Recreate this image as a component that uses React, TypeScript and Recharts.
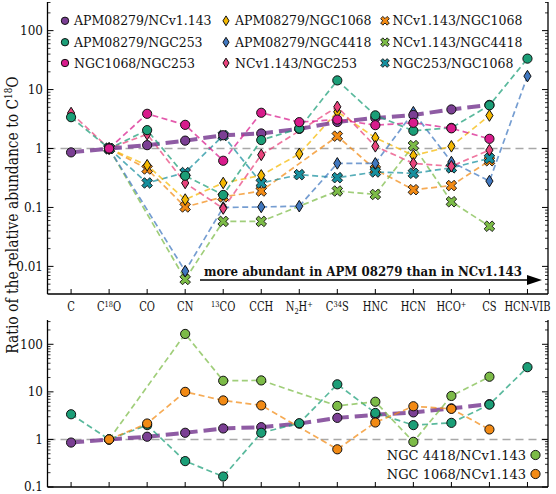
import React from 'react';
import { LineChart, Line, XAxis, YAxis, ReferenceLine } from 'recharts';

const FONT = '"DejaVu Serif", "Liberation Serif", serif';

// ---------------- data ----------------
const categories = ['C', 'C18O', 'CO', 'CN', '13CO', 'CCH', 'N2H+', 'C34S', 'HNC', 'HCN', 'HCO+', 'CS', 'HCN-VIB'];

type Part = [string, '' | 'sup' | 'sub'];
const categoryLabelParts: Part[][] = [
  [['C', '']],
  [['C', ''], ['18', 'sup'], ['O', '']],
  [['CO', '']],
  [['CN', '']],
  [['13', 'sup'], ['CO', '']],
  [['CCH', '']],
  [['N', ''], ['2', 'sub'], ['H', ''], ['+', 'sup']],
  [['C', ''], ['34', 'sup'], ['S', '']],
  [['HNC', '']],
  [['HCN', '']],
  [['HCO', ''], ['+', 'sup']],
  [['CS', '']],
  [['HCN-VIB', '']],
];

// top panel series (index follows categories)
const apmNcv = [0.86, 1, 1.14, 1.36, 1.68, 1.8, 2.15, 2.82, 3.3, 3.7, 4.6, 5.5, null];
const apmN253 = [3.4, 1, 2.05, 0.345, 0.163, 1.39, 2.18, 14.3, 3.65, 2.0, 2.24, 5.4, 33.5];
const n1068N253 = [null, 1, 3.88, 2.52, 0.62, 4.04, 2.8, 3.1, 2.49, 2.73, 2.2, 1.46, null];
const apmN1068 = [null, 1, 0.52, 0.136, 0.26, 0.35, 0.81, 4.2, 1.52, 0.76, 1.09, 3.63, null];
const apmN4418 = [null, 1, null, 0.0083, 0.1, 0.102, 0.105, 0.56, 0.56, 4.13, 0.59, 0.28, 16.9];
const ncvN253 = [4.0, 1, 1.75, 0.26, 0.096, 0.78, null, 5.1, 1.09, 0.56, 0.5, 0.94, null];
const ncvN1068 = [null, 1, 0.45, 0.102, 0.151, 0.19, null, 1.62, 0.44, 0.2, 0.235, 0.62, null];
const ncvN4418 = [null, 1, null, 0.006, 0.058, 0.058, null, 0.19, 0.166, 1.12, 0.125, 0.048, null];
const n253N1068 = [null, 1, 0.26, 0.39, 1.66, 0.26, 0.36, 0.32, 0.4, 0.38, 0.47, 0.68, null];

// bottom panel series
const botApmNcv = [0.86, 1, 1.14, 1.38, 1.7, 1.81, 2.15, 2.84, 3.3, 3.7, 4.5, 5.5, null];
const botApmN253 = [3.38, 1, 2.0, 0.35, 0.166, 1.38, 2.19, 14.4, 3.6, 2.0, 2.23, 5.4, 33.0];
const botN4418Ncv = [null, 1, null, 165, 17.1, 17.4, null, 5.07, 6.2, 0.89, 8.2, 20.8, null];
const botN1068Ncv = [null, 1, 2.16, 10, 6.6, 5.2, null, 0.62, 2.27, 4.98, 4.39, 1.62, null];

const topNames = [
  'APM08279/NCv1.143', 'APM08279/NGC253', 'NGC1068/NGC253',
  'APM08279/NGC1068', 'APM08279/NGC4418', 'NCv1.143/NGC253',
  'NCv1.143/NGC1068', 'NCv1.143/NGC4418', 'NGC253/NGC1068',
];
const bottomNames = ['NGC 4418/NCv1.143', 'NGC 1068/NCv1.143'];

const topMajorTicks = [0.01, 0.1, 1, 10, 100];
const topMajorLabels = ['0.01', '0.1', '1', '10', '100'];
const bottomMajorTicks = [0.1, 1, 10, 100];
const bottomMajorLabels = ['0.1', '1', '10', '100'];
const minorMultipliers = [2, 3, 4, 5, 6, 7, 8, 9];

const annotationText = 'more abundant in APM 08279 than in NCv1.143';
const yTitle = 'Ratio of the relative abundance to C';

// ---------------- styles ----------------
const C = {
  purple: '#7b3f94',
  green: '#1b9e77',
  magenta: '#d81b8c',
  yellow: '#f5b800',
  blue: '#4077bf',
  pink: '#e9437c',
  orange: '#f28a14',
  lgreen: '#7cbb47',
  teal: '#168f9e',
};

type Shape = 'circle' | 'diamond' | 'x';

const TOP_DOMAIN: [number, number] = [0.0034, 306];
const BOT_DOMAIN: [number, number] = [0.1, 324];
const X_DOMAIN: [number, number] = [-0.62, 12.54];
const xTicks = categories.map((_, i) => i);

function logTicks(min: number, max: number, majors: number[]) {
  const out: number[] = [];
  const bases = [majors[0] / 10, ...majors];
  bases.forEach((m) => {
    out.push(m);
    minorMultipliers.forEach((k) => out.push(m * k));
  });
  return out.filter((v) => v >= min && v <= max).sort((a, b) => a - b);
}

function isMajor(v: number) {
  const l = Math.log10(v);
  return Math.abs(l - Math.round(l)) < 1e-6;
}

function marker(shape: Shape, cx: number, cy: number, fill: string, s: number, key?: any) {
  const stroke = '#111';
  if (shape === 'circle') {
    return <circle key={key} cx={cx} cy={cy} r={s} fill={fill} stroke={stroke} strokeWidth={1} />;
  }
  if (shape === 'diamond') {
    const w = s * 0.62;
    return (
      <path key={key} d={`M${cx},${cy - s}L${cx + w},${cy}L${cx},${cy + s}L${cx - w},${cy}Z`} fill={fill} stroke={stroke} strokeWidth={1} />
    );
  }
  const h = s;
  const w = s * 0.34;
  const pts: [number, number][] = [
    [-w, -h], [w, -h], [w, -w], [h, -w], [h, w], [w, w], [w, h], [-w, h], [-w, w], [-h, w], [-h, -w], [-w, -w],
  ];
  const r = Math.SQRT1_2;
  const d = pts
    .map(([px, py], i) => `${i === 0 ? 'M' : 'L'}${(cx + (px - py) * r).toFixed(2)},${(cy + (px + py) * r).toFixed(2)}`)
    .join('') + 'Z';
  return <path key={key} d={d} fill={fill} stroke={stroke} strokeWidth={0.9} />;
}

const dotFn = (shape: Shape, fill: string, s: number) => (p: any) => {
  const key = p.key ?? `d-${p.index}`;
  if (p.cx == null || p.cy == null || p.value == null || Number.isNaN(p.cy)) return <g key={key} />;
  return marker(shape, p.cx, p.cy, fill, s, key);
};

// ---------------- ticks ----------------
const XBottomTick = (props: any) => {
  const { x, y, payload, showLabel } = props;
  const i = Math.round(payload.value);
  const parts = categoryLabelParts[i] || [];
  let off = 0;
  const spans = parts.map(([t, k], j) => {
    let target = 0;
    let size = 12;
    if (k === 'sup') { target = -4.5; size = 8; }
    if (k === 'sub') { target = 3; size = 8; }
    const dy = target - off;
    off = target;
    return (
      <tspan key={j} dy={dy} fontSize={size}>{t}</tspan>
    );
  });
  return (
    <g>
      <line x1={x} x2={x} y1={y} y2={y - 5} stroke="#000" strokeWidth={1} />
      {showLabel && (
        <text transform={`translate(${x},${y + 17}) scale(0.83,1)`} x={0} y={0} textAnchor="middle" fontSize={12} fontFamily={FONT} fill="#111">{spans}</text>
      )}
    </g>
  );
};

const XTopTick = (props: any) => {
  const { x, y } = props;
  return <line x1={x} x2={x} y1={y} y2={y + 5} stroke="#000" strokeWidth={1} />;
};

const YLeftTick = (props: any) => {
  const { x, y, payload, majors, labels } = props;
  const v = payload.value;
  const major = isMajor(v);
  const idx = majors.findIndex((m: number) => Math.abs(m - v) / m < 1e-6);
  return (
    <g>
      <line x1={x} x2={x + (major ? 6 : 3)} y1={y} y2={y} stroke="#000" strokeWidth={major ? 1 : 0.8} />
      {major && idx >= 0 && (
        <text x={x - 4.5} y={y + 4.3} textAnchor="end" fontSize={12} fontFamily={FONT} fill="#111">{labels[idx]}</text>
      )}
    </g>
  );
};

const YRightTick = (props: any) => {
  const { x, y, payload } = props;
  const major = isMajor(payload.value);
  return <line x1={x} x2={x - (major ? 6 : 3)} y1={y} y2={y} stroke="#000" strokeWidth={major ? 1 : 0.8} />;
};

// ---------------- series config ----------------
type Series = { key: string; values: (number | null)[]; color: string; shape: Shape; thick?: boolean };

const topSeries: Series[] = [
  { key: 'ncvN1068', values: ncvN1068, color: C.orange, shape: 'x' },
  { key: 'ncvN4418', values: ncvN4418, color: C.lgreen, shape: 'x' },
  { key: 'n253N1068', values: n253N1068, color: C.teal, shape: 'x' },
  { key: 'apmN1068', values: apmN1068, color: C.yellow, shape: 'diamond' },
  { key: 'apmN4418', values: apmN4418, color: C.blue, shape: 'diamond' },
  { key: 'ncvN253', values: ncvN253, color: C.pink, shape: 'diamond' },
  { key: 'apmNcv', values: apmNcv, color: C.purple, shape: 'circle', thick: true },
  { key: 'apmN253', values: apmN253, color: C.green, shape: 'circle' },
  { key: 'n1068N253', values: n1068N253, color: C.magenta, shape: 'circle' },
];

const bottomSeries: Series[] = [
  { key: 'botApmNcv', values: botApmNcv, color: C.purple, shape: 'circle', thick: true },
  { key: 'botApmN253', values: botApmN253, color: C.green, shape: 'circle' },
  { key: 'botN4418Ncv', values: botN4418Ncv, color: C.lgreen, shape: 'circle' },
  { key: 'botN1068Ncv', values: botN1068Ncv, color: C.orange, shape: 'circle' },
];

function buildRows(series: Series[]) {
  return categories.map((c, i) => {
    const row: any = { x: i, name: c };
    series.forEach((s) => { row[s.key] = s.values[i]; });
    return row;
  });
}

const topRows = buildRows(topSeries);
const bottomRows = buildRows(bottomSeries);

function renderLines(series: Series[]) {
  return series.map((s) => (
    <Line
      key={s.key}
      dataKey={s.key}
      type="linear"
      stroke={s.color}
      strokeOpacity={s.thick ? 0.85 : 0.72}
      strokeWidth={s.thick ? 4 : 1.7}
      strokeDasharray={s.thick ? '13 6' : '6 3.5'}
      connectNulls
      isAnimationActive={false}
      dot={dotFn(s.shape, s.color, s.shape === 'circle' ? 4.6 : s.shape === 'diamond' ? 5.8 : 5.6)}
      activeDot={false}
    />
  ));
}

function Panel({ rows, series, domain, majors, labels, height, marginTop, bottomH, showX }: any) {
  const yt = logTicks(domain[0], domain[1], majors);
  return (
    <LineChart width={556} height={height} data={rows} margin={{ top: marginTop, right: 0, bottom: 0, left: 0 }}>
      <XAxis
        xAxisId={0}
        dataKey="x"
        type="number"
        domain={X_DOMAIN}
        allowDataOverflow
        ticks={xTicks}
        interval={0}
        height={bottomH}
        tickSize={0}
        tickMargin={0}
        axisLine={{ stroke: '#000', strokeWidth: 1.3 }}
        tickLine={false}
        tick={(p: any) => <XBottomTick {...p} showLabel={showX} />}
      />
      <XAxis
        xAxisId="top"
        orientation="top"
        dataKey="x"
        type="number"
        domain={X_DOMAIN}
        allowDataOverflow
        ticks={xTicks}
        interval={0}
        height={0}
        tickSize={0}
        tickMargin={0}
        axisLine={{ stroke: '#000', strokeWidth: 1.3 }}
        tickLine={false}
        tick={(p: any) => <XTopTick {...p} />}
      />
      <YAxis
        yAxisId={0}
        type="number"
        scale="log"
        domain={domain}
        allowDataOverflow
        ticks={yt}
        interval={0}
        width={47.5}
        tickSize={0}
        tickMargin={0}
        axisLine={{ stroke: '#000', strokeWidth: 1.3 }}
        tickLine={false}
        tick={(p: any) => <YLeftTick {...p} majors={majors} labels={labels} />}
      />
      <YAxis
        yAxisId="right"
        orientation="right"
        type="number"
        scale="log"
        domain={domain}
        allowDataOverflow
        ticks={yt}
        interval={0}
        width={8}
        tickSize={0}
        tickMargin={0}
        axisLine={{ stroke: '#000', strokeWidth: 1.3 }}
        tickLine={false}
        tick={(p: any) => <YRightTick {...p} />}
      />
      <ReferenceLine y={1} stroke="#a8a8a8" strokeWidth={1.5} strokeDasharray="8 5" />
      {renderLines(series)}
    </LineChart>
  );
}

const topLegendLayout = [
  { shape: 'circle', color: C.purple, col: 0, row: 0 },
  { shape: 'circle', color: C.green, col: 0, row: 1 },
  { shape: 'circle', color: C.magenta, col: 0, row: 2 },
  { shape: 'diamond', color: C.yellow, col: 1, row: 0 },
  { shape: 'diamond', color: C.blue, col: 1, row: 1 },
  { shape: 'diamond', color: C.pink, col: 1, row: 2 },
  { shape: 'x', color: C.orange, col: 2, row: 0 },
  { shape: 'x', color: C.lgreen, col: 2, row: 1 },
  { shape: 'x', color: C.teal, col: 2, row: 2 },
];
const legendColX = [65, 226, 385];
const legendRowY = [20.8, 42.2, 63];

export default function App() {
  return (
    <div style={{ position: 'absolute', left: 0, top: 0, width: 556, height: 494, background: '#fff', fontFamily: FONT }}>
      <div style={{ position: 'absolute', left: 0, top: 0 }}>
        <Panel rows={topRows} series={topSeries} domain={TOP_DOMAIN} majors={topMajorTicks} labels={topMajorLabels}
          height={316} marginTop={2} bottomH={22} showX={true} />
      </div>
      <div style={{ position: 'absolute', left: 0, top: 310 }}>
        <Panel rows={bottomRows} series={bottomSeries} domain={BOT_DOMAIN} majors={bottomMajorTicks} labels={bottomMajorLabels}
          height={184} marginTop={10} bottomH={7} showX={false} />
      </div>
      <svg width={556} height={494} style={{ position: 'absolute', left: 0, top: 0, pointerEvents: 'none' }}>
        {/* y title */}
        <text transform="translate(17.5,215) rotate(-90) scale(0.84,1)" textAnchor="middle" fontSize={16.5} fontFamily={FONT} fill="#111">
          {yTitle}
          <tspan dy={-6} fontSize={10.5}>18</tspan>
          <tspan dy={6}>O</tspan>
        </text>
        {/* top legend */}
        {topLegendLayout.map((l, i) => (
          <g key={i}>
            {marker(l.shape as Shape, legendColX[l.col], legendRowY[l.row], l.color, l.shape === 'circle' ? 3.7 : l.shape === 'diamond' ? 4.9 : 4.6)}
            <text x={legendColX[l.col] + (l.col === 2 ? 7.5 : 9)} y={legendRowY[l.row] + 4.5} fontSize={12.5} fontFamily={FONT} fill="#111">
              {topNames[i]}
            </text>
          </g>
        ))}
        {/* annotation */}
        <text x={204} y={275.5} fontSize={12} fontWeight="bold" fontFamily={FONT} fill="#111" textLength={318} lengthAdjust="spacingAndGlyphs">{annotationText}</text>
        <line x1={200} x2={528} y1={280} y2={280} stroke="#000" strokeWidth={1.3} />
        <path d="M527,275L542,280L527,285Z" fill="#000" />
        {/* bottom legend */}
        {bottomNames.map((n, i) => (
          <g key={n}>
            <text x={526} y={[455, 474][i] + 4.5} textAnchor="end" fontSize={13} fontFamily={FONT} fill="#111">{n}</text>
            {marker('circle', 535.5, [455, 474][i], i === 0 ? C.lgreen : C.orange, 4.6)}
          </g>
        ))}
      </svg>
    </div>
  );
}
